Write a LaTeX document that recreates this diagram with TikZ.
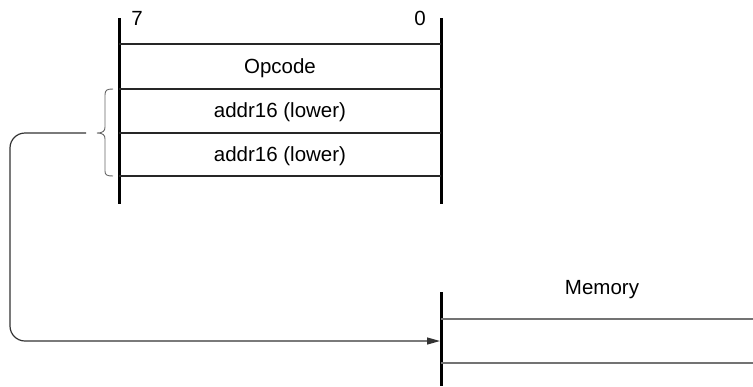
\documentclass[tikz,border=0pt]{standalone}
\usepackage{fontspec}
\setmainfont{Liberation Sans}
\usetikzlibrary{arrows.meta}
\begin{document}
\begin{tikzpicture}[x=1pt,y=-1pt,
  bar/.style={line width=3pt,black},
  row/.style={line width=1.4pt,black!85},
  memrow/.style={line width=1.4pt,black!55},
  lbl/.style={font=\fontsize{20.5}{24}\selectfont,inner sep=0pt,anchor=center},
  bracestyle/.style={line width=0.9pt,black!60},
  conn/.style={line width=1.2pt,black!80,rounded corners=15pt,-{Stealth[length=13pt,width=7pt,inset=0pt]}}]
\useasboundingbox (0,0) rectangle (753,386);
% register
\coordinate (lt) at (119,18); \coordinate (lb) at (119,204);
\coordinate (rt) at (441,18); \coordinate (rb) at (441,204);
\draw[bar] (lt) -- (lb);
\draw[bar] (rt) -- (rb);
\foreach \y in {44,89,133,176} \draw[row] (119,\y) -- (441,\y);
\node[lbl] (b7) at (137,18) {7};
\node[lbl] (b0) at (420,18) {0};
\node[lbl] (op) at (280,68) {Opcode};
\node[lbl] (a1) at (280,112) {addr16 (lower)};
\node[lbl] (a2) at (280,156) {addr16 (lower)};
% brace
\draw[bracestyle] (113,89) .. controls (107,89) and (105,90) .. (105,95)
  -- (105,127) .. controls (105,131) and (103,133) .. (97,133)
  .. controls (103,133) and (105,135) .. (105,139)
  -- (105,171) .. controls (105,175) and (107,176) .. (113,176);
% memory
\coordinate (mt) at (441,292); \coordinate (mb) at (441,386);
\draw[bar] (mt) -- (mb);
\foreach \y in {319,363} \draw[memrow] (441,\y) -- (753,\y);
\node[lbl] (mem) at (602,290) {Memory};
% connector
\coordinate (src) at (86,133);
\coordinate (dst) at (440,341);
\draw[conn] (src) -- (10,133) -- (10,341) -- (dst);
\end{tikzpicture}
\end{document}
